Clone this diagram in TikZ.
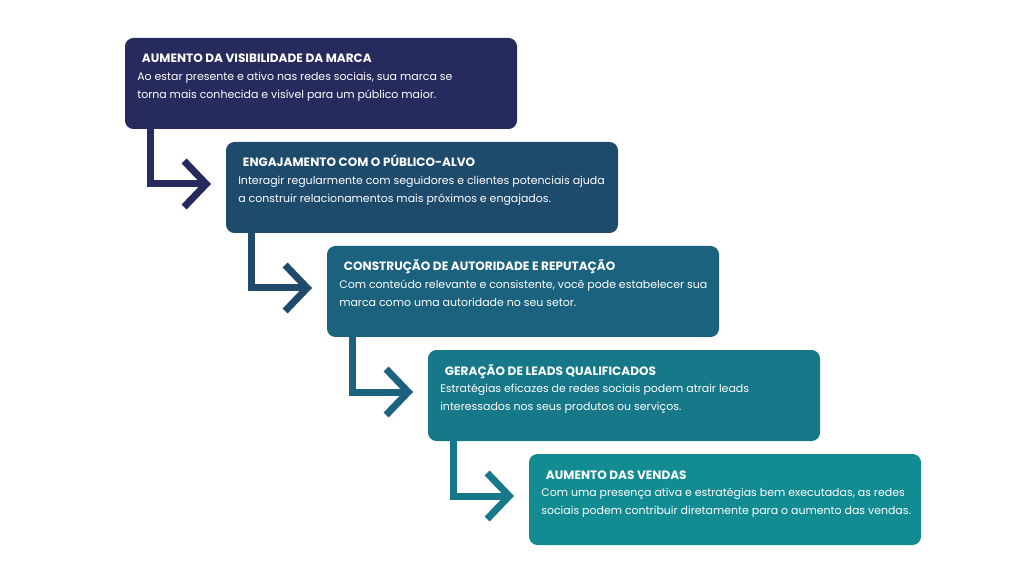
\documentclass[tikz,border=0pt]{standalone}
\usepackage{fontspec}
\setmainfont{Poppins}
\usetikzlibrary{arrows.meta,calc}
\definecolor{c1}{HTML}{262A5C}
\definecolor{c2}{HTML}{1E4A6C}
\definecolor{c3}{HTML}{1A627D}
\definecolor{c4}{HTML}{167888}
\definecolor{c5}{HTML}{128C92}
\tikzset{
 ttl/.style={anchor=base west, text=white, font=\bfseries\fontsize{8.6}{10}\selectfont},
 bdy/.style={anchor=north west, text=white, align=left, font=\fontsize{7.8}{12.8}\selectfont, inner sep=0pt},
 conn/.style={line width=7*0.025cm, -{Straight Barb[length=5.5mm,width=11.5mm,line width=7*0.025cm]}}
}
\begin{document}
\begin{tikzpicture}[x=0.025cm,y=-0.025cm]
\useasboundingbox[fill=white] (0,0) rectangle (1024,576);
\def\boxitem#1#2#3#4#5#6{%
 \fill[#2, rounded corners=6pt] (#3,#4) rectangle ++(392,91);
 \node[ttl] (t#1) at (#3+12,#4+25) {#5};
 \node[bdy] (b#1) at (#3+12,#4+34) {#6};
 \coordinate (s#1) at (#3+25,#4+91);
}
\boxitem{1}{c1}{125}{38}{AUMENTO DA VISIBILIDADE DA MARCA}{Ao estar presente e ativo nas redes sociais, sua marca se\\torna mais conhecida e visível para um público maior.}
\boxitem{2}{c2}{226}{142}{ENGAJAMENTO COM O PÚBLICO-ALVO}{Interagir regularmente com seguidores e clientes potenciais ajuda\\a construir relacionamentos mais próximos e engajados.}
\boxitem{3}{c3}{327}{246}{CONSTRUÇÃO DE AUTORIDADE E REPUTAÇÃO}{Com conteúdo relevante e consistente, você pode estabelecer sua\\marca como uma autoridade no seu setor.}
\boxitem{4}{c4}{428}{350}{GERAÇÃO DE LEADS QUALIFICADOS}{Estratégias eficazes de redes sociais podem atrair leads\\interessados nos seus produtos ou serviços.}
\boxitem{5}{c5}{529}{454}{AUMENTO DAS VENDAS}{Com uma presença ativa e estratégias bem executadas, as redes\\sociais podem contribuir diretamente para o aumento das vendas.}
\foreach \i in {1,2,3,4}{
 \coordinate (e\i) at ($(s\i)+(61,55)$);
}
\draw[conn,c1] (s1) |- (e1);
\draw[conn,c2] (s2) |- (e2);
\draw[conn,c3] (s3) |- (e3);
\draw[conn,c4] (s4) |- (e4);
\end{tikzpicture}
\end{document}
